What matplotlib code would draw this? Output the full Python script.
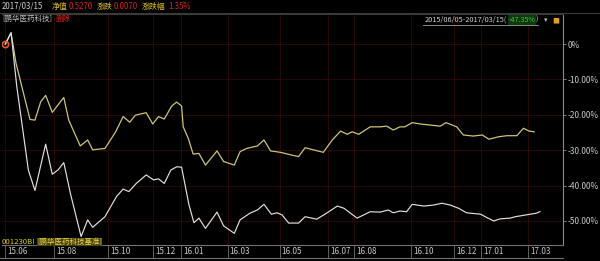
import numpy as np
import matplotlib
matplotlib.use("Agg")
import matplotlib.pyplot as plt
import matplotlib.dates as mdates
import matplotlib.transforms as mtransforms

plt.rcParams['font.family'] = ['Noto Sans CJK SC', 'DejaVu Sans']

start = np.datetime64('2015-06-05')

# benchmark (yellow): days since start, cumulative return %
bench_days = [0, 7, 13, 30, 36, 43, 49, 57, 71, 77, 91, 100, 106, 121, 134, 143, 151, 158,
              171, 179, 186, 193, 202, 208, 214, 216, 222, 228, 235, 243, 257, 265, 278, 285,
              293, 306, 314, 322, 334, 348, 356, 364, 374, 386, 397, 407, 415, 421, 429, 443,
              455, 463, 471, 479, 485, 494, 504, 516, 528, 535, 548, 556, 568, 579, 587, 599,
              609, 621, 629, 636, 642]
bench_pct = [0, 3.2, -5.4, -21.3, -21.5, -16.3, -14.5, -19.3, -15.1, -21.5, -28.8, -27.1, -29.9,
             -29.5, -24.8, -20.5, -22.1, -20.1, -19.4, -22.6, -20.5, -21.2, -17.5, -16.4, -17.5,
             -23.4, -26.6, -31.1, -30.9, -34.2, -30.2, -33.2, -34.2, -30.4, -29.5, -28.8, -27.1,
             -30.2, -30.6, -31.4, -31.8, -29.3, -29.9, -30.6, -27.1, -24.6, -25.5, -24.8, -25.5,
             -23.4, -23.4, -23.2, -24.3, -23.4, -23.4, -22.2, -22.6, -22.9, -23.2, -22.2, -23.4,
             -25.7, -26.0, -25.7, -26.9, -26.2, -25.9, -25.9, -23.8, -24.6, -24.8]

# fund (white)
fund_days = [0, 7, 14, 28, 36, 49, 57, 64, 71, 79, 92, 100, 106, 121, 135, 143, 150, 159, 171,
             180, 186, 193, 201, 208, 214, 223, 229, 235, 243, 257, 265, 278, 285, 297, 306, 314,
             323, 330, 336, 344, 356, 364, 378, 390, 403, 411, 427, 443, 455, 465, 471, 479, 487,
             494, 508, 520, 530, 540, 550, 560, 577, 585, 593, 601, 613, 619, 627, 637, 645, 649]
fund_pct = [0, 3.2, -12.1, -35.6, -41.4, -28.3, -36.8, -35.6, -33.5, -42.2, -54.4, -49.7, -51.8,
            -48.8, -43.1, -41.0, -41.7, -39.4, -37.0, -38.4, -38.1, -39.4, -35.6, -34.7, -34.8,
            -45.5, -50.5, -49.2, -52.1, -47.5, -51.4, -53.5, -49.7, -47.8, -46.9, -45.3, -48.1,
            -47.7, -48.3, -50.6, -50.6, -48.8, -49.5, -47.8, -45.8, -46.4, -49.2, -47.4, -47.5,
            -46.9, -47.7, -47.2, -47.4, -45.3, -45.8, -45.5, -45.0, -45.5, -46.4, -47.7, -48.1,
            -49.1, -50.0, -49.4, -49.2, -48.8, -48.5, -48.1, -47.8, -47.35]

tick_dates = ['2015-06-05', '2015-08-03', '2015-10-08', '2015-12-01', '2016-01-04', '2016-03-01',
              '2016-05-03', '2016-07-01', '2016-08-01', '2016-10-10', '2016-12-01', '2017-01-03',
              '2017-03-01']
tick_labels = ['15.06', '15.08', '15.10', '15.12', '16.01', '16.03', '16.05', '16.07', '16.08',
               '16.10', '16.12', '17.01', '17.03']
y_ticks = [0, -10, -20, -30, -40, -50]
y_labels = ['0%', '-10.00%', '-20.00%', '-30.00%', '-40.00%', '-50.00%']

W, H = 600, 261


def fx(x):
    return x / W


def fy(y):
    return 1 - y / H


fig = plt.figure(figsize=(6.0, 2.61), dpi=100, facecolor='black')
ax = fig.add_axes([fx(2), fy(245), fx(563) - fx(2), fy(14) - fy(245)], facecolor='black')

bx = start + np.array(bench_days).astype('timedelta64[D]')
wx = start + np.array(fund_days).astype('timedelta64[D]')
ax.plot(bx, bench_pct, color='#cdc476', lw=0.9)
ax.plot(wx, fund_pct, color='#e0e0e0', lw=0.85)
ax.plot(bx[:1], bench_pct[:1], 'o', ms=4.5, mfc='none', mec='#e0582a', mew=1.2)

ax.set_xlim(start - np.timedelta64(4, 'D'), start + np.timedelta64(677, 'D'))
ax.set_ylim(-56.8, 8.5)

td = np.array(tick_dates, dtype='datetime64[D]')
ax.set_xticks(td)
ax.set_xticklabels([])
ax.tick_params(axis='x', length=0)
ax.set_yticks(y_ticks)
ax.set_yticklabels(y_labels)
ax.yaxis.tick_right()
ax.tick_params(axis='y', length=2, width=0.6, color='#909090', pad=1.5,
               labelsize=6, labelcolor='#c8c8c8')
ax.grid(True, color='#300808', lw=0.6)

ax.spines['left'].set_visible(False)
ax.spines['right'].set_color('#8a8a8a')
ax.spines['right'].set_linewidth(0.8)
ax.spines['top'].set_color('#3a3a3a')
ax.spines['bottom'].set_color('#707070')
ax.spines['bottom'].set_linewidth(0.8)

# date strip below the plot
trans = mtransforms.blended_transform_factory(ax.transData, fig.transFigure)
for d, lab in zip(td, tick_labels):
    ax.plot([d, d], [fy(246), fy(258)], color='#707070', lw=0.6, transform=trans, clip_on=False)
    ax.text(mdates.date2num(d) + 2.5, fy(252), lab, transform=trans, ha='left', va='center',
            fontsize=5.8, color='#c8c8c8')
fig.add_artist(plt.Line2D([0, fx(563)], [fy(258), fy(258)], color='#707070', lw=0.8))

# header rows
fig.add_artist(plt.Line2D([0, 1], [fy(13), fy(13)], color='#3a3a3a', lw=0.8))
row1 = fy(6.5)
hs = 5.7
fig.text(fx(2), row1, '2017/03/15', fontsize=hs, color='#d0d0d0', va='center')
fig.text(fx(52), row1, '净值', fontsize=hs, color='#e0c020', va='center')
fig.text(fx(68.5), row1, '0.5270', fontsize=hs, color='#d82020', va='center')
fig.text(fx(97), row1, '涨跌', fontsize=hs, color='#e0c020', va='center')
fig.text(fx(113.5), row1, '0.0070', fontsize=hs, color='#d82020', va='center')
fig.text(fx(142), row1, '涨跌幅', fontsize=hs, color='#e0c020', va='center')
fig.text(fx(168), row1, '1.35%', fontsize=hs, color='#d82020', va='center')

row2 = fy(19)
fig.text(fx(2), row2, '[鹏华医药科技]', fontsize=5.4, color='#c0c0c0', va='center')
fig.text(fx(56), row2, '删除', fontsize=5.4, color='#e02020', va='center')

fig.text(fx(507), fy(20), '2015/06/05-2017/03/15(', fontsize=5.3, color='#d0d0d0',
         va='center', ha='right')
fig.text(fx(508.5), fy(20), '-47.35%', fontsize=5.1, color='#40c040', va='center',
         bbox=dict(boxstyle='square,pad=0.1', fc='#0c3a0c', ec='none'))
fig.text(fx(538), fy(20), ')', fontsize=5.3, color='#d0d0d0', va='center', ha='right')
fig.add_artist(plt.Line2D([fx(423), fx(538)], [fy(25), fy(25)], color='#a0a0a0', lw=0.6))
fig.text(fx(544), fy(20), '▾', fontsize=5, color='#c0c0c0', va='center')
fig.text(fx(552), fy(21), '■', fontsize=5, color='#e0a020', va='center')

fig.text(fx(2), fy(242), '001230BI', fontsize=5.6, color='#d8c830', va='center')
fig.text(fx(37), fy(242), '[鹏华医药科技基准]', fontsize=5.4, color='#e8d840', va='center',
         bbox=dict(boxstyle='square,pad=0.05', fc='#4a4010', ec='none'))

fig.savefig('out.png', dpi=100, facecolor='black')
